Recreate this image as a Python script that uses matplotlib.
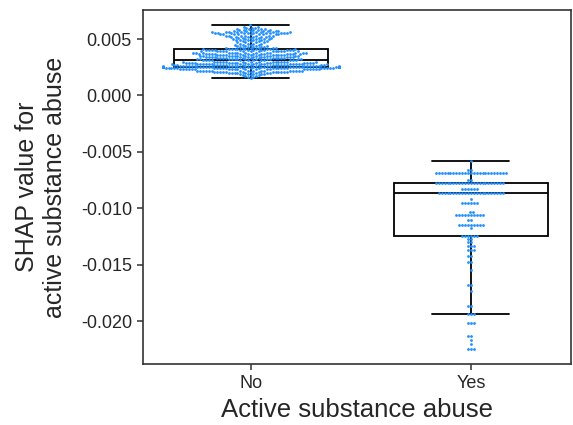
import numpy as np
import pandas as pd
import matplotlib
matplotlib.use("Agg")
import matplotlib.pyplot as plt
import seaborn as sns

categories = ["No", "Yes"]

# SHAP values and how many points sit at each value
no_values = [0.0062, 0.0061, 0.0060, 0.0059, 0.0058, 0.0057, 0.0056, 0.0055, 0.0054,
             0.0053, 0.0052, 0.0051, 0.0050, 0.0049, 0.0048, 0.0047, 0.0046, 0.0045,
             0.0044, 0.0043, 0.0042, 0.0041, 0.0040, 0.0039, 0.0038, 0.0037, 0.0036,
             0.0035, 0.0034, 0.0033, 0.0032, 0.0031, 0.0030, 0.0029, 0.0028, 0.0027,
             0.0026, 0.0025, 0.0024, 0.0023, 0.0022, 0.0021, 0.0020, 0.0019, 0.0018,
             0.0017, 0.0016, 0.0015]
no_counts = [1, 2, 3, 4, 5, 7, 9, 11, 9,
             7, 6, 5, 5, 5, 4, 4, 4, 4,
             4, 5, 6, 10, 12, 14, 14, 14, 12,
             12, 12, 12, 12, 12, 16, 16, 18, 18,
             22, 40, 24, 20, 16, 14, 8, 5, 3,
             2, 2, 1]

yes_values = [-0.00582, -0.00659, -0.00689, -0.00747, -0.00780, -0.00827, -0.00863,
              -0.00916, -0.00955, -0.01034, -0.01058, -0.01108, -0.01148, -0.01179,
              -0.01245, -0.01270, -0.01300, -0.01336, -0.01374, -0.01427, -0.01472,
              -0.01551, -0.01684, -0.01729, -0.01862, -0.01940, -0.02021, -0.02128,
              -0.02166, -0.02201, -0.02246]
yes_counts = [1, 2, 25, 2, 24, 6, 23,
              1, 6, 2, 10, 2, 9, 1,
              6, 2, 2, 3, 3, 2, 2,
              1, 2, 1, 2, 3, 3, 2,
              1, 1, 3]

x_label = "Active substance abuse"
y_label = "SHAP value for\nactive substance abuse"

sns.set_style("ticks")
plt.rcParams["font.family"] = ["Liberation Sans", "DejaVu Sans"]
plt.rcParams["axes.unicode_minus"] = False

shap = np.concatenate([np.repeat(no_values, no_counts), np.repeat(yes_values, yes_counts)])
group = ["No"] * int(np.sum(no_counts)) + ["Yes"] * int(np.sum(yes_counts))
df = pd.DataFrame({"group": group, "shap": shap})

fig = plt.figure(figsize=(5.73, 4.25), dpi=100)
ax = fig.add_axes([143 / 573, 61 / 425, 428 / 573, 354 / 425])

sns.boxplot(data=df, x="group", y="shap", order=categories, width=0.7,
            showfliers=False, color="white", linecolor="black", linewidth=1.3, ax=ax)
sns.swarmplot(data=df, x="group", y="shap", order=categories, color="#2090FF",
              size=2.0, ax=ax, zorder=5)

ax.set_xlim(-0.49, 1.455)
ax.set_ylim(-0.0238, 0.00757)
ax.set_yticks([0.005, 0.0, -0.005, -0.010, -0.015, -0.020])
ax.set_yticklabels(["0.005", "0.000", "-0.005", "-0.010", "-0.015", "-0.020"])

for s in ax.spines.values():
    s.set_visible(True)
    s.set_color("#333333")
    s.set_linewidth(1.2)
ax.tick_params(axis="both", labelsize=13, colors="#333333", length=4.5, width=1.1,
               labelcolor="#262626")
ax.set_xlabel(x_label, fontsize=18.5, color="#262626", labelpad=4)
ax.set_ylabel(y_label, fontsize=18, color="#262626", labelpad=10)

fig.savefig("out.png", dpi=100)
